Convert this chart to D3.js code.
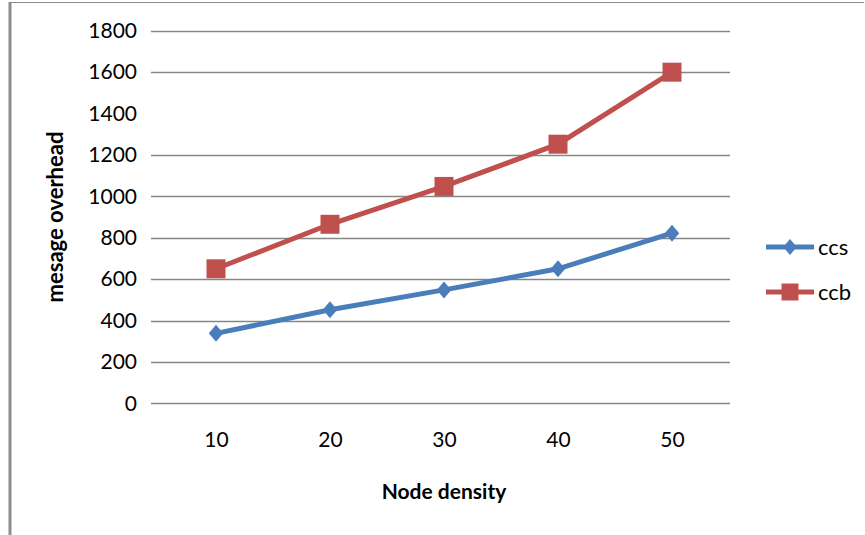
<!DOCTYPE html>
<html>
<head>
<meta charset="utf-8">
<script src="https://cdn.jsdelivr.net/npm/d3@7.9.0/dist/d3.min.js"></script>
<style>
  body { margin: 0; background: #fff; }
  svg { display: block; font-family: Lato, "Open Sans", sans-serif; }
</style>
</head>
<body>
<svg id="chart" width="865" height="535"></svg>
<script>
const categories = ['10', '20', '30', '40', '50'];
const ccs = [338, 452, 548, 650, 822];
const ccb = [650, 865, 1048, 1252, 1600];
const yTicks = [0, 200, 400, 600, 800, 1000, 1200, 1400, 1600, 1800];
// the source picture has no gridline at 1400
const gridTicks = [0, 200, 400, 600, 800, 1000, 1200, 1600, 1800];

const series = [
  { name: 'ccs', values: ccs, color: '#4a7ebb', marker: 'diamond' },
  { name: 'ccb', values: ccb, color: '#c0504d', marker: 'square' }
];

const svg = d3.select('#chart');

// outer frame (left and top edges only, as in the picture)
svg.append('line').attr('x1', 10).attr('x2', 10).attr('y1', 2).attr('y2', 535)
  .attr('stroke', '#8c8c8c').attr('stroke-width', 3);
svg.append('line').attr('x1', 10).attr('x2', 864).attr('y1', 2.5).attr('y2', 2.5)
  .attr('stroke', '#8c8c8c').attr('stroke-width', 1);

const plotLeft = 151, plotRight = 730;
const x = d3.scalePoint().domain(categories).range([159, 729]).padding(0.5);
const y = d3.scaleLinear().domain([0, 1800]).range([403.3, 30.8]);

// gridlines
svg.append('g').attr('class', 'grid')
  .selectAll('line')
  .data(gridTicks)
  .join('line')
  .attr('x1', plotLeft).attr('x2', plotRight)
  .attr('y1', (d) => Math.round(y(d)) + 0.5).attr('y2', (d) => Math.round(y(d)) + 0.5)
  .attr('stroke', '#868686').attr('stroke-width', 1.5);

// y axis labels
const yAxis = svg.append('g')
  .attr('transform', 'translate(137,0)')
  .call(d3.axisLeft(y).tickValues(yTicks).tickFormat(d3.format('d')).tickSize(0).tickPadding(0));
yAxis.select('.domain').remove();
yAxis.selectAll('.tick line').remove();
yAxis.selectAll('text').attr('font-size', 21).attr('fill', '#000')
  .attr('font-family', 'Lato, "Open Sans", sans-serif');

// x axis labels
const xAxis = svg.append('g')
  .attr('transform', 'translate(0,432)')
  .call(d3.axisBottom(x).tickSize(0).tickPadding(0));
xAxis.select('.domain').remove();
xAxis.selectAll('.tick line').remove();
xAxis.selectAll('text').attr('font-size', 21).attr('fill', '#000')
  .attr('font-family', 'Lato, "Open Sans", sans-serif');

// axis titles
svg.append('text')
  .attr('x', 444).attr('y', 499)
  .attr('text-anchor', 'middle')
  .attr('font-size', 21).attr('font-weight', 'bold')
  .text('Node density');

svg.append('text')
  .attr('transform', 'translate(63,217) rotate(-90)')
  .attr('text-anchor', 'middle')
  .attr('font-size', 22).attr('font-weight', 'bold')
  .text('mesage overhead');

const line = d3.line()
  .x((d, i) => x(categories[i]))
  .y((d) => y(d));

function drawMarker(g, type, cx, cy, color, size) {
  if (type === 'square') {
    g.append('rect')
      .attr('x', cx - size / 2).attr('y', cy - size / 2)
      .attr('width', size).attr('height', size)
      .attr('fill', color);
  } else {
    const h = size / 2;
    g.append('path')
      .attr('d', `M${cx},${cy - h}L${cx + h * 0.85},${cy}L${cx},${cy + h}L${cx - h * 0.85},${cy}Z`)
      .attr('fill', color);
  }
}

series.forEach((s) => {
  const g = svg.append('g');
  g.append('path')
    .datum(s.values)
    .attr('d', line)
    .attr('fill', 'none')
    .attr('stroke', s.color)
    .attr('stroke-width', 5);
  s.values.forEach((v, i) => {
    drawMarker(g, s.marker, x(categories[i]), y(v), s.color, s.marker === 'square' ? 19 : 17);
  });
});

// legend
const legend = svg.append('g');
series.forEach((s, i) => {
  const ly = 247 + i * 45;
  legend.append('line')
    .attr('x1', 766).attr('x2', 814).attr('y1', ly).attr('y2', ly)
    .attr('stroke', s.color).attr('stroke-width', 5);
  drawMarker(legend, s.marker, 790, ly, s.color, s.marker === 'square' ? 17 : 16);
  legend.append('text')
    .attr('x', 818).attr('y', ly + 8)
    .attr('font-size', 22)
    .text(s.name);
});
</script>
</body>
</html>
